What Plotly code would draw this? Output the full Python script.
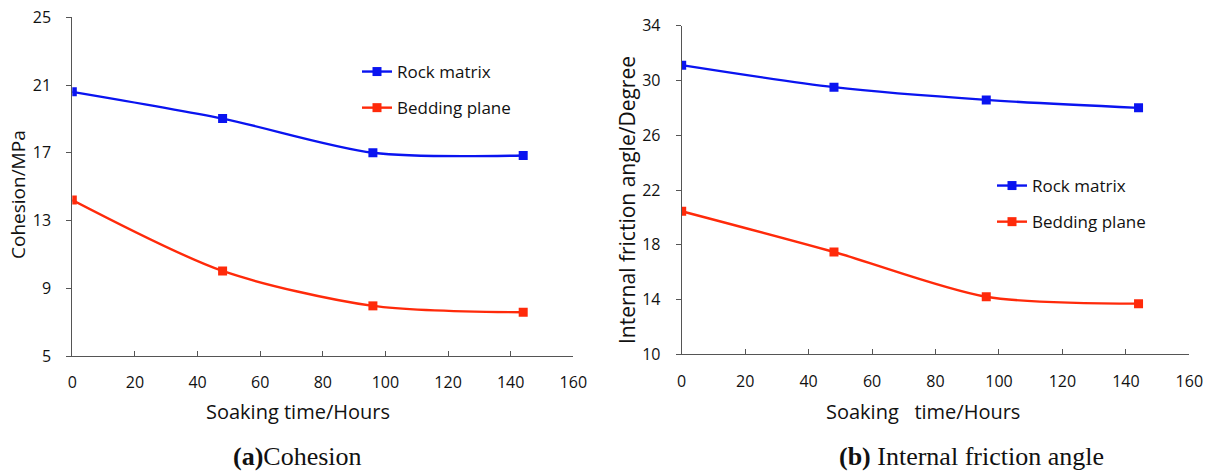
import plotly.graph_objects as go

hours = [0, 48, 96, 144]
coh_rock = [20.60, 19.02, 17.00, 16.84]
coh_bed = [14.21, 10.02, 7.96, 7.58]
fric_rock = [31.12, 29.51, 28.58, 28.00]
fric_bed = [20.45, 17.47, 14.20, 13.70]

x_ticks = [0, 20, 40, 60, 80, 100, 120, 140, 160]
coh_ticks = [5, 9, 13, 17, 21, 25]
fric_ticks = [10, 14, 18, 22, 26, 30, 34]

BLUE = "#0a14f0"
RED = "#ff2a0a"
W, H = 1217, 472
FONT = "Open Sans"

fig = go.Figure()

def add(x, y, name, color, xa, ya, legend, grp):
    fig.add_trace(go.Scatter(
        x=x, y=y, name=name, mode="lines+markers",
        line=dict(color=color, width=2.4, shape="spline", smoothing=0.8),
        marker=dict(symbol="square", size=9, color=color),
        xaxis=xa, yaxis=ya, legend=legend, legendgroup=grp))

add(hours, coh_rock, "Rock matrix", BLUE, "x", "y", "legend", "a1")
add(hours, coh_bed, "Bedding plane", RED, "x", "y", "legend", "a2")
add(hours, fric_rock, "Rock matrix", BLUE, "x2", "y2", "legend2", "b1")
add(hours, fric_bed, "Bedding plane", RED, "x2", "y2", "legend2", "b2")

def px_x(p):
    return p / W

def px_y(p):
    return 1 - p / H

axis_common = dict(showline=True, linecolor="#555", linewidth=1, showgrid=False,
                   zeroline=False, automargin=False,
                   tickfont=dict(family=FONT, size=16, color="#111"),
                   ticklen=5, tickcolor="#555")

xa_common = dict(range=[0, 160], tickvals=x_ticks, ticks="inside", ticklabelstandoff=12,
                 **axis_common)
ya_common = dict(ticks="outside", ticklabelstandoff=12, **axis_common)
leg_common = dict(xanchor="left", yanchor="top", bgcolor="rgba(0,0,0,0)",
                  font=dict(family=FONT, size=17, color="#111"),
                  traceorder="grouped", tracegroupgap=11)

def label(text, x, y, size, angle=0, family=FONT):
    return dict(text=text, x=px_x(x), y=px_y(y), xref="paper", yref="paper",
                xanchor="center", yanchor="middle", showarrow=False, textangle=angle,
                font=dict(family=family, size=size, color="#111"))

fig.update_layout(
    width=W, height=H, margin=dict(l=0, r=0, t=0, b=0, autoexpand=False),
    paper_bgcolor="white", plot_bgcolor="white",
    font=dict(family=FONT, color="#111"),
    xaxis=dict(domain=[px_x(72.3), px_x(573.3)], anchor="y", **xa_common),
    yaxis=dict(domain=[px_y(356), px_y(17.3)], range=[5, 25], tickvals=coh_ticks, anchor="x",
               **ya_common),
    xaxis2=dict(domain=[px_x(681.7), px_x(1189.3)], anchor="y2", **xa_common),
    yaxis2=dict(domain=[px_y(354.3), px_y(25.7)], range=[10, 34], tickvals=fric_ticks,
                anchor="x2", **ya_common),
    legend=dict(x=px_x(357), y=px_y(54), **leg_common),
    legend2=dict(x=px_x(992), y=px_y(168), **leg_common),
    annotations=[
        label("Soaking time/Hours", 298, 411, 20),
        label("Soaking\u00a0\u00a0 time/Hours", 923, 411, 20),
        label("Cohesion/MPa", 18, 195, 19, -90),
        label("Internal friction angle/Degree", 627, 200, 21, -90),
        label("<b>(a)</b>Cohesion", 297, 456, 26, family="Liberation Serif"),
        label("<b>(b)</b> Internal friction angle", 971, 456, 26, family="Liberation Serif"),
    ],
)

fig.write_html("out.html")
